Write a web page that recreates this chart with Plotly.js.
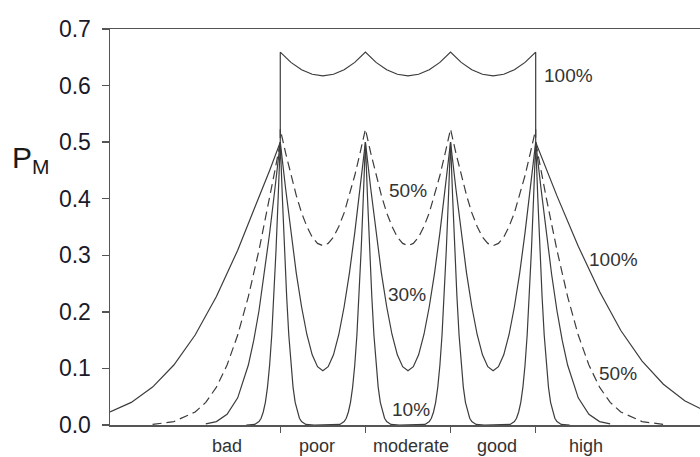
<!DOCTYPE html>
<html>
<head>
<meta charset="utf-8">
<script src="https://cdn.plot.ly/plotly-3.0.1.min.js"></script>
<style>html,body{margin:0;padding:0;background:#fff;}#chart{width:700px;height:457px;}</style>
</head>
<body>
<div id="chart"></div>
<script>
// Ecological status classes and their label positions (class units)
var categories = ["bad", "poor", "moderate", "good", "high"];
var categoryPos = [0.38, 1.43, 2.53, 3.55, 4.59];
var classBounds = [1, 2, 3, 4];
var yTicks = [0.0, 0.1, 0.2, 0.3, 0.4, 0.5, 0.6, 0.7];

// Uncertainty 100 % (solid)
var x100 = [-1, -0.75, -0.5, -0.25, 0, 0.25, 0.5, 0.75, 0.875, 1,
  1, 1.125, 1.25, 1.375, 1.5, 1.625, 1.75, 1.875, 2,
  2.125, 2.25, 2.375, 2.5, 2.625, 2.75, 2.875, 3,
  3.125, 3.25, 3.375, 3.5, 3.625, 3.75, 3.875, 4,
  4, 4.125, 4.25, 4.5, 4.75, 5, 5.25, 5.5, 5.75, 6];
var y100 = [0.023, 0.040, 0.067, 0.106, 0.159, 0.227, 0.309, 0.401, 0.450, 0.500,
  0.659, 0.641, 0.628, 0.620, 0.617, 0.620, 0.628, 0.641, 0.659,
  0.641, 0.628, 0.620, 0.617, 0.620, 0.628, 0.641, 0.659,
  0.641, 0.628, 0.620, 0.617, 0.620, 0.628, 0.641, 0.659,
  0.500, 0.452, 0.405, 0.316, 0.236, 0.167, 0.113, 0.072, 0.043, 0.024];

// Uncertainty 50 % (dashed)
var x50 = [-0.5, -0.25, 0, 0.125, 0.25, 0.375, 0.5, 0.625, 0.75, 0.875, 0.9375, 1,
  1, 1.0625, 1.125, 1.1875, 1.25, 1.3125, 1.375, 1.4375, 1.5, 1.5625, 1.625, 1.6875, 1.75, 1.8125, 1.875, 1.9375, 2,
  2.0625, 2.125, 2.1875, 2.25, 2.3125, 2.375, 2.4375, 2.5, 2.5625, 2.625, 2.6875, 2.75, 2.8125, 2.875, 2.9375, 3,
  3.0625, 3.125, 3.1875, 3.25, 3.3125, 3.375, 3.4375, 3.5, 3.5625, 3.625, 3.6875, 3.75, 3.8125, 3.875, 3.9375, 4,
  4, 4.0625, 4.125, 4.25, 4.375, 4.5, 4.625, 4.75, 4.875, 5, 5.25, 5.5];
var y50 = [0.001, 0.006, 0.023, 0.040, 0.067, 0.106, 0.159, 0.227, 0.309, 0.401, 0.450, 0.500,
  0.523, 0.481, 0.441, 0.406, 0.375, 0.351, 0.332, 0.321, 0.317, 0.321, 0.332, 0.351, 0.375, 0.406, 0.441, 0.481, 0.523,
  0.481, 0.441, 0.406, 0.375, 0.351, 0.332, 0.321, 0.317, 0.321, 0.332, 0.351, 0.375, 0.406, 0.441, 0.481, 0.523,
  0.481, 0.441, 0.406, 0.375, 0.351, 0.332, 0.321, 0.317, 0.321, 0.332, 0.351, 0.375, 0.406, 0.441, 0.481, 0.523,
  0.500, 0.450, 0.401, 0.309, 0.227, 0.159, 0.106, 0.067, 0.040, 0.023, 0.006, 0.001];

// Uncertainty 30 % (solid)
var x30 = [0.125, 0.25, 0.375, 0.5, 0.625, 0.6875, 0.75, 0.8125, 0.875, 0.9375, 1,
  1.0625, 1.125, 1.1875, 1.25, 1.3125, 1.375, 1.4375, 1.5, 1.5625, 1.625, 1.6875, 1.75, 1.8125, 1.875, 1.9375, 2,
  2.0625, 2.125, 2.1875, 2.25, 2.3125, 2.375, 2.4375, 2.5, 2.5625, 2.625, 2.6875, 2.75, 2.8125, 2.875, 2.9375, 3,
  3.0625, 3.125, 3.1875, 3.25, 3.3125, 3.375, 3.4375, 3.5, 3.5625, 3.625, 3.6875, 3.75, 3.8125, 3.875, 3.9375, 4,
  4.0625, 4.125, 4.1875, 4.25, 4.3125, 4.375, 4.5, 4.625, 4.75, 4.875];
var y30 = [0.002, 0.006, 0.019, 0.048, 0.106, 0.149, 0.202, 0.266, 0.339, 0.418, 0.500,
  0.418, 0.340, 0.269, 0.209, 0.160, 0.124, 0.103, 0.096, 0.103, 0.124, 0.160, 0.209, 0.269, 0.340, 0.418, 0.500,
  0.418, 0.340, 0.269, 0.209, 0.160, 0.124, 0.103, 0.096, 0.103, 0.124, 0.160, 0.209, 0.269, 0.340, 0.418, 0.500,
  0.418, 0.340, 0.269, 0.209, 0.160, 0.124, 0.103, 0.096, 0.103, 0.124, 0.160, 0.209, 0.269, 0.340, 0.418, 0.500,
  0.418, 0.339, 0.266, 0.202, 0.149, 0.106, 0.048, 0.019, 0.006, 0.002];

// Uncertainty 10 % (solid)
var x10 = [0.6, 0.7, 0.75, 0.775, 0.8, 0.825, 0.85, 0.875, 0.9, 0.925, 0.95, 0.975, 1,
  1.025, 1.05, 1.075, 1.1, 1.125, 1.15, 1.175, 1.2, 1.225, 1.25, 1.3, 1.4, 1.6, 1.7, 1.75, 1.775, 1.8, 1.825, 1.85, 1.875, 1.9, 1.925, 1.95, 1.975, 2,
  2.025, 2.05, 2.075, 2.1, 2.125, 2.15, 2.175, 2.2, 2.225, 2.25, 2.3, 2.4, 2.6, 2.7, 2.75, 2.775, 2.8, 2.825, 2.85, 2.875, 2.9, 2.925, 2.95, 2.975, 3,
  3.025, 3.05, 3.075, 3.1, 3.125, 3.15, 3.175, 3.2, 3.225, 3.25, 3.3, 3.4, 3.6, 3.7, 3.75, 3.775, 3.8, 3.825, 3.85, 3.875, 3.9, 3.925, 3.95, 3.975, 4,
  4.025, 4.05, 4.075, 4.1, 4.125, 4.15, 4.175, 4.2, 4.225, 4.25, 4.3, 4.4];
var y10 = [0.000, 0.001, 0.006, 0.012, 0.023, 0.040, 0.067, 0.106, 0.159, 0.227, 0.309, 0.401, 0.500,
  0.401, 0.309, 0.227, 0.159, 0.106, 0.067, 0.040, 0.023, 0.012, 0.006, 0.001, 0.000, 0.000, 0.001, 0.006, 0.012, 0.023, 0.040, 0.067, 0.106, 0.159, 0.227, 0.309, 0.401, 0.500,
  0.401, 0.309, 0.227, 0.159, 0.106, 0.067, 0.040, 0.023, 0.012, 0.006, 0.001, 0.000, 0.000, 0.001, 0.006, 0.012, 0.023, 0.040, 0.067, 0.106, 0.159, 0.227, 0.309, 0.401, 0.500,
  0.401, 0.309, 0.227, 0.159, 0.106, 0.067, 0.040, 0.023, 0.012, 0.006, 0.001, 0.000, 0.000, 0.001, 0.006, 0.012, 0.023, 0.040, 0.067, 0.106, 0.159, 0.227, 0.309, 0.401, 0.500,
  0.401, 0.309, 0.227, 0.159, 0.106, 0.067, 0.040, 0.023, 0.012, 0.006, 0.001, 0.000];

// Curve labels
var curveLabels = ["100%", "50%", "30%", "10%", "100%", "50%"];
var curveLabelX = [4.39, 2.50, 2.49, 2.53, 4.91, 4.97];
var curveLabelY = [0.617, 0.415, 0.230, 0.028, 0.292, 0.091];

var FONT = "Liberation Sans, Arial, Helvetica, sans-serif";
var LC = "#3c3c3c";

function tr(x, y, dash) {
  return {x: x, y: y, type: "scatter", mode: "lines", hoverinfo: "skip",
    line: {color: LC, width: 1.2, dash: dash || "solid"}};
}
var data = [tr(x100, y100), tr(x50, y50, "9px,5px"), tr(x30, y30), tr(x10, y10)];

var ann = [];
for (var i = 0; i < categories.length; i++) {
  ann.push({x: categoryPos[i], y: 0, xref: "x", yref: "paper", yanchor: "top", yshift: -9,
    text: categories[i], showarrow: false, font: {family: FONT, size: 18, color: "#333"}});
}
for (var j = 0; j < curveLabels.length; j++) {
  ann.push({x: curveLabelX[j], y: curveLabelY[j], xref: "x", yref: "y", text: curveLabels[j],
    showarrow: false, font: {family: FONT, size: 19, color: "#333"}});
}
ann.push({x: 0, y: 0.47, xref: "paper", yref: "y", xanchor: "left", yanchor: "middle", xshift: -100,
  text: "P<sub>M</sub>", showarrow: false, font: {family: FONT, size: 30, color: "#1a1a1a"}});

var layout = {
  width: 700, height: 457,
  margin: {l: 110, r: 0, t: 29, b: 32, pad: 0},
  paper_bgcolor: "#fff", plot_bgcolor: "#fff",
  showlegend: false,
  font: {family: FONT},
  xaxis: {range: [-1, 5.93], showline: true, mirror: true, linecolor: "#555", linewidth: 1.5,
    ticks: "outside", tickvals: classBounds, ticklen: 6, tickcolor: "#555", tickwidth: 1.5,
    showticklabels: false, showgrid: false, zeroline: false, fixedrange: true},
  yaxis: {range: [0, 0.7], showline: true, linecolor: "#555", linewidth: 1.5,
    ticks: "outside", tickvals: yTicks, tickformat: ".1f", ticklen: 7, tickcolor: "#555", tickwidth: 1.5,
    tickfont: {family: FONT, size: 23, color: "#1a1a2a"}, ticklabelstandoff: 6,
    showgrid: false, zeroline: false, fixedrange: true},
  annotations: ann
};
Plotly.newPlot("chart", data, layout, {staticPlot: true, displayModeBar: false});
</script>
</body>
</html>
